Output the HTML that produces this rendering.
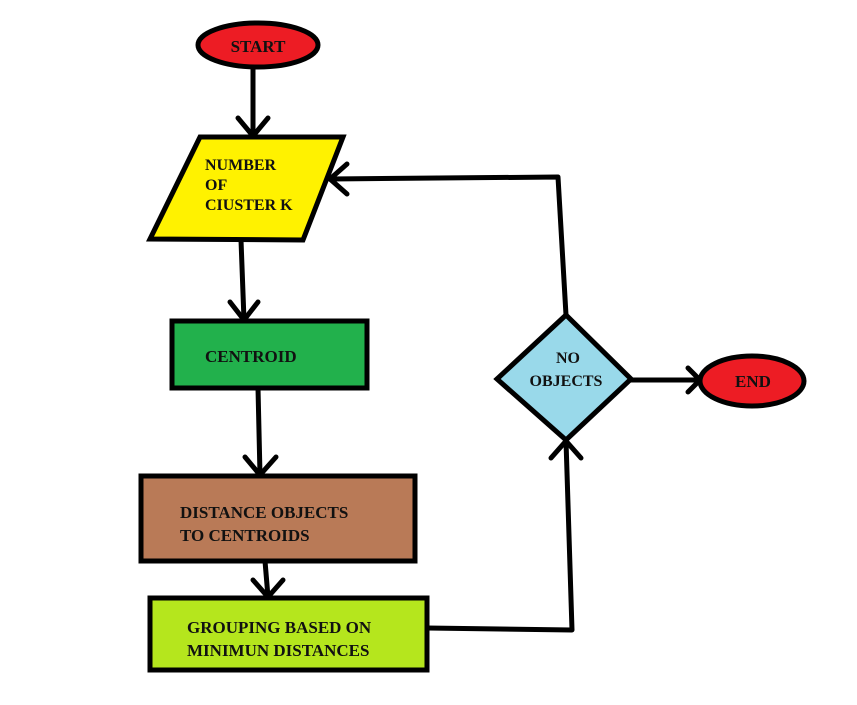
<!DOCTYPE html>
<html><head><style>
html,body{margin:0;padding:0;background:#fff;}
svg text{font-family:"Liberation Serif",serif;font-weight:bold;fill:#111;}
</style></head><body>
<svg width="857" height="700" viewBox="0 0 857 700" xmlns="http://www.w3.org/2000/svg">
<g stroke="#000" stroke-width="5" fill="none" stroke-linecap="round" stroke-linejoin="round">
<!-- start to para -->
<line x1="253" y1="67" x2="253" y2="136"/>
<polyline points="238,118 253,136 268,118"/>
<!-- para to centroid -->
<line x1="241" y1="240" x2="244" y2="320"/>
<polyline points="230,302 244,320 258,302"/>
<!-- centroid to distance -->
<line x1="258" y1="388" x2="260" y2="475"/>
<polyline points="245,457 260,475 276,457"/>
<!-- distance to grouping -->
<line x1="265" y1="561" x2="268" y2="597"/>
<polyline points="253,580 268,597 283,580"/>
<!-- grouping to diamond -->
<polyline points="427,628 572,630 566,441"/>
<polyline points="551,458 566,441 581,458"/>
<!-- diamond to para -->
<polyline points="566,315 558,177 330,179"/>
<polyline points="347,164 330,179 347,194"/>
<!-- diamond to end -->
<line x1="631" y1="380" x2="700" y2="380"/>
<polyline points="688,368 700,380 688,392"/>
</g>
<ellipse cx="258" cy="45" rx="60" ry="22" fill="#ed1c24" stroke="#000" stroke-width="5"/>
<text x="258" y="52" font-size="17" text-anchor="middle">START</text>
<polygon points="200,137 343,137 303,240 150,239" fill="#fff200" stroke="#000" stroke-width="5"/>
<text x="205" y="170" font-size="16">NUMBER</text>
<text x="205" y="190" font-size="16">OF</text>
<text x="205" y="210" font-size="16">CIUSTER K</text>
<rect x="172" y="321" width="195" height="67" fill="#22b14c" stroke="#000" stroke-width="5"/>
<text x="205" y="362" font-size="17">CENTROID</text>
<rect x="141" y="476" width="274" height="85" fill="#b97a57" stroke="#000" stroke-width="5"/>
<text x="180" y="518" font-size="17">DISTANCE OBJECTS</text>
<text x="180" y="541" font-size="17">TO CENTROIDS</text>
<rect x="150" y="598" width="277" height="72" fill="#b5e61d" stroke="#000" stroke-width="5"/>
<text x="187" y="633" font-size="17">GROUPING BASED ON</text>
<text x="187" y="656" font-size="17">MINIMUN DISTANCES</text>
<polygon points="566,315 631,379 566,440 497,379" fill="#99d9ea" stroke="#000" stroke-width="5"/>
<text x="568" y="363" font-size="16" text-anchor="middle">NO</text>
<text x="566" y="386" font-size="16" text-anchor="middle">OBJECTS</text>
<ellipse cx="752" cy="381" rx="52" ry="25" fill="#ed1c24" stroke="#000" stroke-width="5"/>
<text x="753" y="387" font-size="17" text-anchor="middle">END</text>
</svg>
</body></html>
